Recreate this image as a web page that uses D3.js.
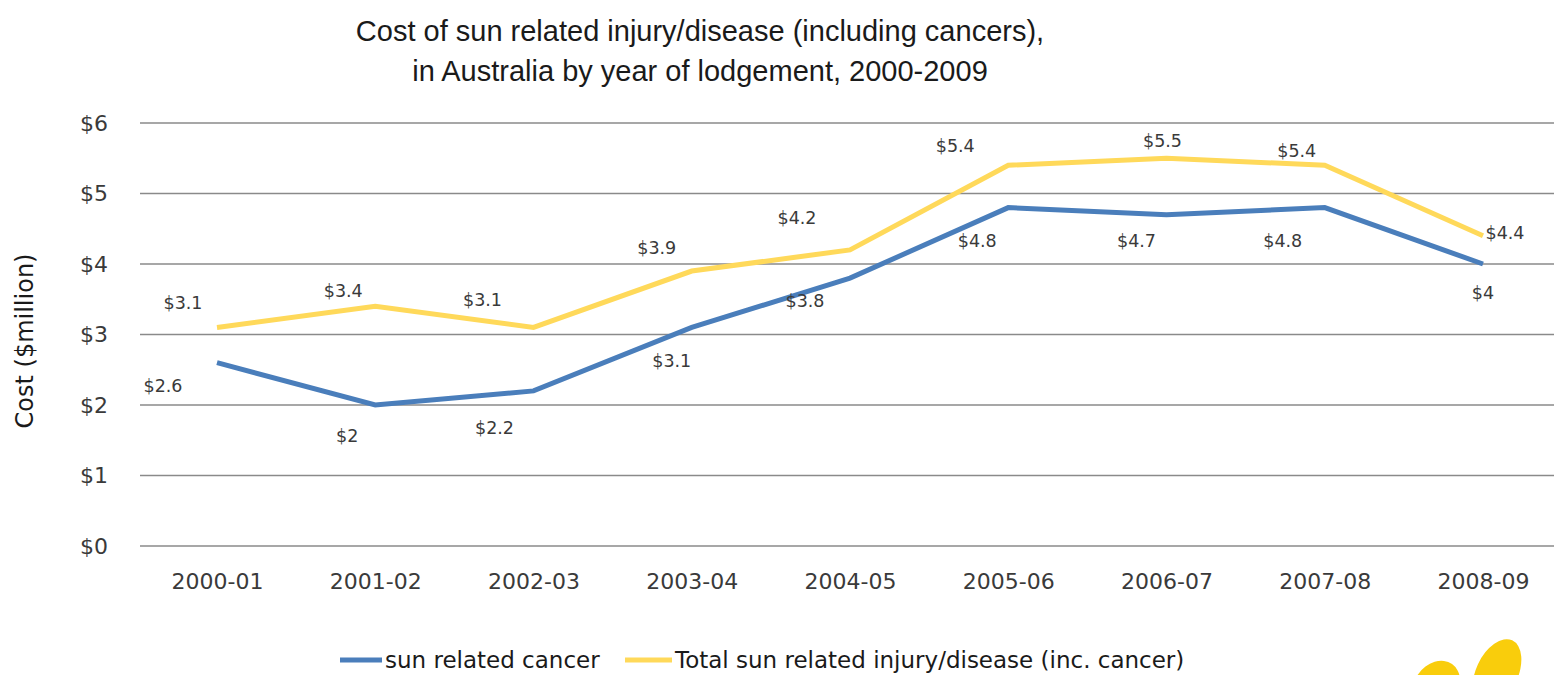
<!DOCTYPE html>
<html>
<head>
<meta charset="utf-8">
<script src="https://cdn.jsdelivr.net/npm/d3@7"></script>
<style>
  body { margin: 0; background: #fff; }
  svg { display: block; }
  text { font-family: "DejaVu Sans", sans-serif; fill: #333; }
</style>
</head>
<body>
<div id="chart"></div>
<script>
var width = 1554;
var height = 675;

var years = ["2000-01","2001-02","2002-03","2003-04","2004-05","2005-06","2006-07","2007-08","2008-09"];
var cancer = [2.6, 2.0, 2.2, 3.1, 3.8, 4.8, 4.7, 4.8, 4.0];
var total = [3.1, 3.4, 3.1, 3.9, 4.2, 5.4, 5.5, 5.4, 4.4];
var yTicks = [0, 1, 2, 3, 4, 5, 6];
var seriesNames = ["sun related cancer", "Total sun related injury/disease (inc. cancer)"];

// label nudges (px) for the data labels, as placed in the original
var cancerNudge = [[-54,22],[-28,30],[-39,36],[-20,33],[-45,22],[-31,32],[-30,25],[-42,32],[0,28]];
var totalNudge = [[-34,-25],[-32,-16],[-51,-28],[-35,-24],[-53,-33],[-53,-20],[-4,-18],[-28,-15],[22,-4]];

var xScale = d3.scalePoint().domain(years).range([217, 1483]);
var yScale = d3.scaleLinear().domain([0, 6]).range([546, 123]);

var svg = d3.select("#chart")
    .append("svg")
        .attr("width", width)
        .attr("height", height);

// title
var title = svg.append("text")
    .attr("text-anchor", "middle")
    .style("font-family", "Liberation Sans, Arial, sans-serif")
    .style("font-size", "29px")
    .style("fill", "#1a1a1a");
title.append("tspan").attr("x", 700).attr("y", 41).text("Cost of sun related injury/disease (including cancers),");
title.append("tspan").attr("x", 700).attr("y", 81).text("in Australia by year of lodgement, 2000-2009");

// gridlines
svg.append("g")
    .selectAll("line")
    .data(yTicks)
    .enter().append("line")
        .attr("x1", 140)
        .attr("x2", width)
        .attr("y1", function(d) { return yScale(d); })
        .attr("y2", function(d) { return yScale(d); })
        .attr("stroke", "#8a8a8a")
        .attr("stroke-width", 1.5);

// y axis
var yAxis = d3.axisLeft(yScale)
    .tickValues(yTicks)
    .tickSize(0)
    .tickPadding(0)
    .tickFormat(function(d) { return "$" + d; });

svg.append("g")
    .attr("transform", "translate(108,0)")
    .call(yAxis)
    .call(function(g) { g.select(".domain").remove(); })
    .selectAll("text")
        .style("font-size", "22px")
        .style("font-family", "DejaVu Sans, sans-serif")
        .style("fill", "#3a3a3a");

// x axis
var xAxis = d3.axisBottom(xScale).tickSize(0).tickPadding(0);

svg.append("g")
    .attr("transform", "translate(0,573)")
    .call(xAxis)
    .call(function(g) { g.select(".domain").remove(); })
    .selectAll("text")
        .style("font-size", "22px")
        .style("font-family", "DejaVu Sans, sans-serif")
        .style("fill", "#3a3a3a");

svg.append("text")
    .attr("transform", "translate(33,341) rotate(-90)")
    .attr("text-anchor", "middle")
    .style("font-size", "24px")
    .style("fill", "#1a1a1a")
    .text("Cost ($million)");

var valueline = d3.line()
    .x(function(d, i) { return xScale(years[i]); })
    .y(function(d) { return yScale(d); });

svg.append("path")
    .attr("d", valueline(cancer))
    .attr("fill", "none")
    .attr("stroke", "#4a7ebb")
    .attr("stroke-width", 5);

svg.append("path")
    .attr("d", valueline(total))
    .attr("fill", "none")
    .attr("stroke", "#ffd95a")
    .attr("stroke-width", 5);

function labels(values, nudge) {
    svg.append("g")
        .selectAll("text")
        .data(values)
        .enter().append("text")
            .attr("x", function(d, i) { return xScale(years[i]) + nudge[i][0]; })
            .attr("y", function(d, i) { return yScale(d) + nudge[i][1] + 7; })
            .attr("text-anchor", "middle")
            .style("font-size", "17.5px")
            .style("fill", "#3a3a3a")
            .text(function(d) { return "$" + d; });
}
labels(cancer, cancerNudge);
labels(total, totalNudge);

// legend
var legend = svg.append("g").attr("transform", "translate(0,660)");
legend.append("line").attr("x1", 340).attr("x2", 382).attr("y1", 0).attr("y2", 0)
    .attr("stroke", "#4a7ebb").attr("stroke-width", 5);
legend.append("text").attr("x", 385).attr("y", 8).style("font-size", "23px").style("fill", "#1a1a1a").text(seriesNames[0]);
legend.append("line").attr("x1", 625).attr("x2", 672).attr("y1", 0).attr("y2", 0)
    .attr("stroke", "#ffd95a").attr("stroke-width", 5);
legend.append("text").attr("x", 675).attr("y", 8).style("font-size", "23px").style("fill", "#1a1a1a").text(seriesNames[1]);

// decorative petals, bottom right
svg.append("ellipse")
    .attr("cx", 1436).attr("cy", 687).attr("rx", 22).attr("ry", 28)
    .attr("transform", "rotate(35,1436,687)")
    .attr("fill", "#f9cd0c");
svg.append("ellipse")
    .attr("cx", 1497).attr("cy", 673).attr("rx", 21).attr("ry", 36)
    .attr("transform", "rotate(25,1497,673)")
    .attr("fill", "#f9cd0c");
</script>
</body>
</html>
